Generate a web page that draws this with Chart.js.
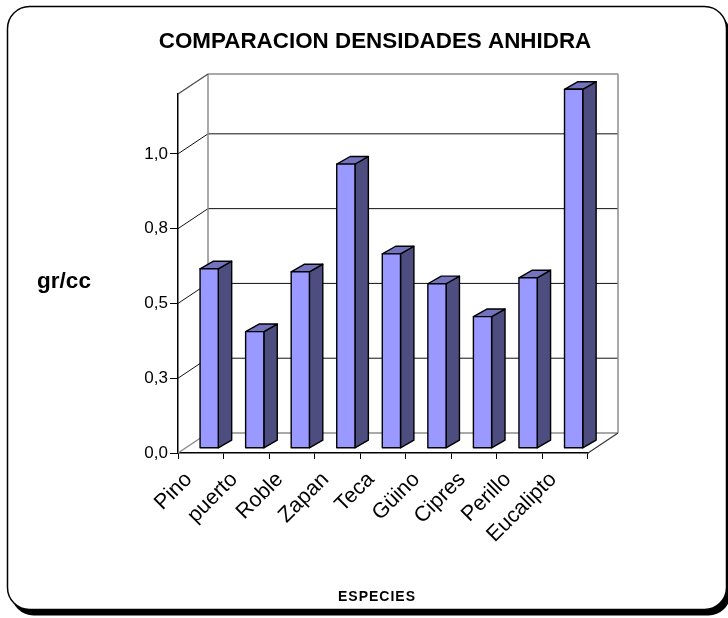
<!DOCTYPE html>
<html>
<head>
<meta charset="utf-8">
<script src="https://cdn.jsdelivr.net/npm/chart.js@4.4.1/dist/chart.umd.min.js"></script>
<style>
  html, body { margin: 0; padding: 0; background: #fff; }
  #wrap { width: 728px; height: 618px; }
</style>
</head>
<body>
<div id="wrap"><canvas id="c" width="728" height="618"></canvas></div>
<script>
// Densidad anhidra por especie (gr/cc)
const especies = ['Pino', 'puerto', 'Roble', 'Zapan', 'Teca', 'Güino', 'Cipres', 'Perillo', 'Eucalipto'];
const densidad = [0.60, 0.39, 0.59, 0.95, 0.65, 0.55, 0.44, 0.57, 1.20];
const yTickValues = [0, 0.25, 0.5, 0.75, 1.0];
const chartTitle = 'COMPARACION DENSIDADES ANHIDRA';
const yTitle = 'gr/cc';
const xTitle = 'ESPECIES';

// 3D look: depth of the floor/walls and of each column
const WALL = { dx: 30, dy: -20 };
const BAR_SHIFT = { dx: 8.4, dy: -4.7 };
const BAR_DEPTH = { dx: 13.4, dy: -7.6 };
const COLORS = { front: '#9999ff', side: '#4d4d80', top: '#7373bf', edge: '#000000', wall: '#8c8c8c', grid: '#111111' };
const FONT = 'Arial, "Liberation Sans", sans-serif';

function line(ctx, x1, y1, x2, y2, color, w) {
  ctx.beginPath();
  ctx.moveTo(x1, y1);
  ctx.lineTo(x2, y2);
  ctx.strokeStyle = color;
  ctx.lineWidth = w || 1;
  ctx.stroke();
}

function poly(ctx, pts, fill) {
  ctx.beginPath();
  ctx.moveTo(pts[0][0], pts[0][1]);
  for (let i = 1; i < pts.length; i++) ctx.lineTo(pts[i][0], pts[i][1]);
  ctx.closePath();
  ctx.fillStyle = fill;
  ctx.fill();
  ctx.strokeStyle = COLORS.edge;
  ctx.lineWidth = 1.4;
  ctx.lineJoin = 'round';
  ctx.stroke();
}

// Rounded frame with a drop shadow behind the whole chart
const framePlugin = {
  id: 'frame',
  beforeDraw(chart) {
    const ctx = chart.ctx;
    ctx.save();
    const x = 7.5, y = 6.5, w = 719, h = 603, r = 22;
    ctx.beginPath();
    ctx.roundRect(x + 4, y + 6, w, h, r);
    ctx.fillStyle = '#000';
    ctx.fill();
    ctx.beginPath();
    ctx.roundRect(x, y, w, h, r);
    ctx.fillStyle = '#fff';
    ctx.fill();
    ctx.strokeStyle = '#000';
    ctx.lineWidth = 1.5;
    ctx.stroke();
    ctx.restore();
  },
  afterDraw(chart) {
    const ctx = chart.ctx;
    ctx.save();
    ctx.fillStyle = '#000';
    ctx.textAlign = 'center';
    ctx.textBaseline = 'middle';
    ctx.font = 'bold 22.4px ' + FONT;
    ctx.fillText(chartTitle, 375, 42);
    ctx.font = 'bold 22.5px ' + FONT;
    ctx.fillText(yTitle, 64, 282);
    ctx.font = 'bold 14px ' + FONT;
    ctx.letterSpacing = '1px';
    ctx.fillText(xTitle, 377, 597);
    ctx.restore();
  }
};

// Back wall, side wall and floor with their gridlines
const wallsPlugin = {
  id: 'walls',
  beforeDatasetsDraw(chart) {
    const ctx = chart.ctx;
    const { left, right, top, bottom } = chart.chartArea;
    const ys = chart.scales.y;
    const bx = WALL.dx, by = WALL.dy;
    ctx.save();
    yTickValues.forEach(v => {
      if (v === 0) return;
      const py = ys.getPixelForValue(v);
      line(ctx, left, py, left + bx, py + by, COLORS.grid, 1);
      line(ctx, left + bx, py + by, right + bx, py + by, COLORS.grid, 1);
    });
    line(ctx, left + bx, top + by, right + bx, top + by, COLORS.wall, 1.5);
    line(ctx, left + bx, top + by, left + bx, bottom + by, COLORS.wall, 1.5);
    line(ctx, right + bx, top + by, right + bx, bottom + by, COLORS.wall, 1.5);
    line(ctx, left + bx, bottom + by, right + bx, bottom + by, COLORS.wall, 1.5);
    line(ctx, left, top, left + bx, top + by, '#444', 1.2);
    line(ctx, left, bottom, left + bx, bottom + by, COLORS.wall, 1.5);
    line(ctx, right, bottom, right + bx, bottom + by, '#333', 1.2);
    ctx.restore();
  }
};

// Columns drawn as boxes from each bar element's geometry
const bars3dPlugin = {
  id: 'bars3d',
  beforeDatasetDraw(chart, args) {
    const ctx = chart.ctx;
    ctx.save();
    args.meta.data.forEach(bar => {
      const p = bar.getProps(['x', 'y', 'base', 'width'], true);
      const l = p.x - p.width / 2 + BAR_SHIFT.dx;
      const r = p.x + p.width / 2 + BAR_SHIFT.dx;
      const t = p.y + BAR_SHIFT.dy;
      const b = p.base + BAR_SHIFT.dy;
      const dx = BAR_DEPTH.dx, dy = BAR_DEPTH.dy;
      poly(ctx, [[r, b], [r + dx, b + dy], [r + dx, t + dy], [r, t]], COLORS.side);
      poly(ctx, [[l, t], [r, t], [r + dx, t + dy], [l + dx, t + dy]], COLORS.top);
      poly(ctx, [[l, t], [r, t], [r, b], [l, b]], COLORS.front);
    });
    ctx.restore();
    return false;
  }
};

new Chart(document.getElementById('c'), {
  type: 'bar',
  data: {
    labels: especies,
    datasets: [{
      label: 'Densidad anhidra',
      data: densidad,
      backgroundColor: COLORS.front,
      categoryPercentage: 1,
      barPercentage: 0.4
    }]
  },
  options: {
    responsive: false,
    animation: false,
    devicePixelRatio: 1,
    layout: { padding: { left: 0, top: 94, right: 140, bottom: 0 } },
    plugins: {
      legend: { display: false },
      title: { display: false },
      tooltip: { enabled: false }
    },
    scales: {
      x: {
        type: 'category',
        offset: true,
        grid: { offset: true, drawOnChartArea: false, drawTicks: true, tickLength: 6, color: '#000', lineWidth: 1 },
        border: { display: true, color: '#000', width: 1.5 },
        ticks: {
          color: '#000',
          font: { family: FONT, size: 21.5 },
          minRotation: 45,
          maxRotation: 45,
          autoSkip: false,
          padding: 8,
          labelOffset: -12
        },
        afterFit(scale) { scale.height = 165; }
      },
      y: {
        min: 0,
        max: 1.2,
        grid: { drawOnChartArea: false, drawTicks: true, tickLength: 8, color: '#000', lineWidth: 1 },
        border: { display: true, color: '#000', width: 1.5 },
        ticks: {
          color: '#000',
          font: { family: FONT, size: 17 },
          padding: 2,
          callback: v => v.toFixed(1).replace('.', ',')
        },
        afterBuildTicks(scale) { scale.ticks = yTickValues.map(v => ({ value: v })); },
        afterFit(scale) { scale.width = 178; }
      }
    }
  },
  plugins: [framePlugin, wallsPlugin, bars3dPlugin]
});
</script>
</body>
</html>
